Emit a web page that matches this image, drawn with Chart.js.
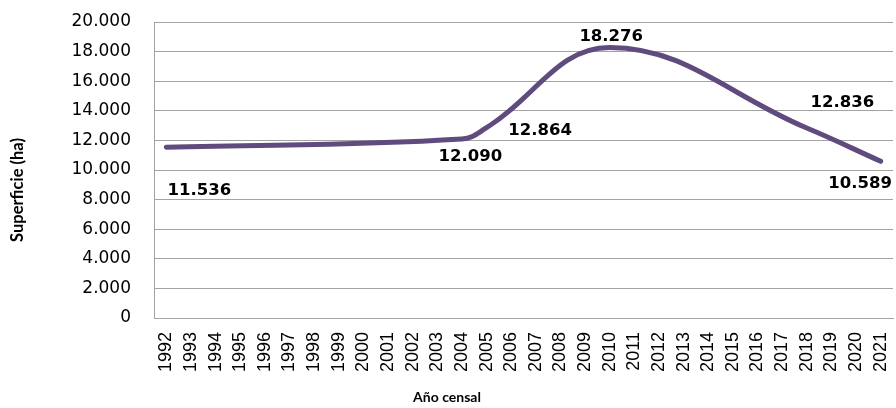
<!DOCTYPE html>
<html>
<head>
<meta charset="utf-8">
<script src="https://cdn.jsdelivr.net/npm/chart.js@4.4.1/dist/chart.umd.min.js"></script>
<style>
  html, body { margin: 0; padding: 0; background: #ffffff; }
  #wrap { width: 896px; height: 408px; position: relative; }
</style>
</head>
<body>
<div id="wrap"><canvas id="chart" width="896" height="408"></canvas></div>
<script>
// Census years shown along the axis
const years = ['1992', '1993', '1994', '1995', '1996', '1997', '1998', '1999', '2000', '2001',
               '2002', '2003', '2004', '2005', '2006', '2007', '2008', '2009', '2010', '2011',
               '2012', '2013', '2014', '2015', '2016', '2017', '2018', '2019', '2020', '2021'];
// Years with a census value and the recorded area (ha)
const censusYears = ['1992', '2004', '2005', '2010', '2018', '2021'];
const censusArea = [11536, 12090, 12864, 18276, 12836, 10589];
// Value axis ticks
const yTicks = [0, 2000, 4000, 6000, 8000, 10000, 12000, 14000, 16000, 18000, 20000];

// Where each value label sits relative to its point: [dx, dy to baseline]
const labelOffsets = {
  '1992': [33, 48],
  '2004': [8.5, 22],
  '2005': [53.5, 7.5],
  '2010': [1.5, -6.5],
  '2018': [35.5, -21],
  '2021': [-20.5, 26.7]
};

const fmt = v => String(v).replace(/\B(?=(\d{3})+(?!\d))/g, '.');

const series = years.map(y => {
  const i = censusYears.indexOf(y);
  return i < 0 ? null : censusArea[i];
});

const GRID = '#a3a3a3';
const LINE = '#5f4b7e';

const annotate = {
  id: 'annotate',
  afterDatasetsDraw(chart) {
    const ctx = chart.ctx;
    const xs = chart.scales.x, ys = chart.scales.y;
    ctx.save();
    ctx.fillStyle = '#000000';
    ctx.font = 'bold 16.5px "DejaVu Sans"';
    ctx.textAlign = 'center';
    ctx.textBaseline = 'alphabetic';
    censusYears.forEach((y, i) => {
      const px = xs.getPixelForValue(years.indexOf(y));
      const py = ys.getPixelForValue(censusArea[i]);
      const off = labelOffsets[y];
      ctx.fillText(fmt(censusArea[i]), px + off[0], py + off[1]);
    });
    ctx.restore();
  },
  afterDraw(chart) {
    const ctx = chart.ctx;
    ctx.save();
    ctx.fillStyle = '#000000';
    ctx.textAlign = 'center';
    ctx.textBaseline = 'middle';
    ctx.font = 'bold 16.5px Lato';
    ctx.translate(18, 190);
    ctx.rotate(-Math.PI / 2);
    ctx.fillText('Superficie (ha)', 0, 0);
    ctx.restore();

    ctx.save();
    ctx.fillStyle = '#000000';
    ctx.textAlign = 'center';
    ctx.textBaseline = 'alphabetic';
    ctx.font = 'bold 14px Lato';
    ctx.fillText('Año censal', 447, 402);
    ctx.restore();
  }
};

new Chart(document.getElementById('chart'), {
  type: 'line',
  data: {
    labels: years,
    datasets: [{
      data: series,
      borderColor: LINE,
      borderWidth: 5,
      borderCapStyle: 'round',
      borderJoinStyle: 'round',
      pointRadius: 0,
      pointHoverRadius: 0,
      tension: 0.4,
      spanGaps: true,
      fill: false
    }]
  },
  options: {
    responsive: false,
    animation: false,
    devicePixelRatio: 1,
    layout: { padding: { top: 22, right: 3, left: 0, bottom: 0 } },
    plugins: { legend: { display: false }, tooltip: { enabled: false } },
    scales: {
      x: {
        type: 'category',
        offset: true,
        grid: { display: false, drawTicks: false },
        border: { display: true, color: GRID, width: 1 },
        ticks: {
          autoSkip: false,
          minRotation: 90,
          maxRotation: 90,
          padding: 14,
          color: '#000000',
          font: { family: '"Liberation Sans"', size: 18 }
        },
        afterFit(s) {
          s.height = 90;
          s.paddingLeft = 0; s.paddingRight = 0; s.paddingTop = 0; s.paddingBottom = 0;
        }
      },
      y: {
        min: 0,
        max: 20000,
        afterBuildTicks(s) { s.ticks = yTicks.map(v => ({ value: v })); },
        grid: { color: GRID, lineWidth: 1, drawTicks: false },
        border: { display: true, color: GRID, width: 1 },
        ticks: {
          padding: 23,
          color: '#000000',
          font: { family: '"DejaVu Sans"', size: 17 },
          callback: v => fmt(v)
        },
        afterFit(s) {
          s.width = 154;
          s.paddingLeft = 0; s.paddingRight = 0; s.paddingTop = 0; s.paddingBottom = 0;
        }
      }
    }
  },
  plugins: [annotate]
});
</script>
</body>
</html>
